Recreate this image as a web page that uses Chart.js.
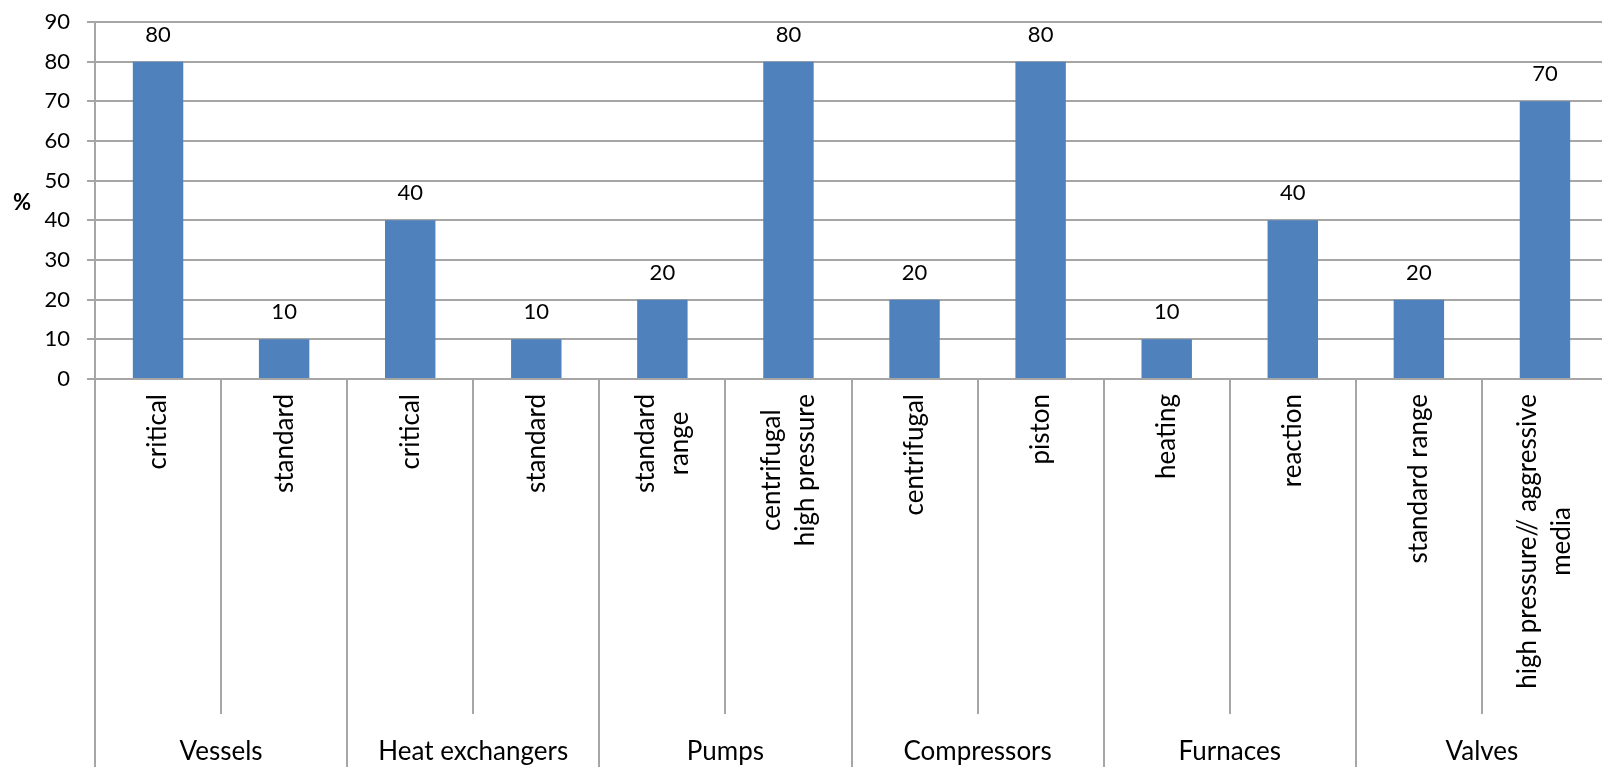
<html>
  <head>
    <meta charset="UTF-8">
    <title>Equipment share</title>
    <script src="https://cdn.jsdelivr.net/npm/chart.js"></script>
    <style>
      html, body { margin: 0; padding: 0; background: #fff; overflow: hidden; }
      #wrap { position: absolute; left: 0; top: 0; width: 1608px; height: 767px; }
    </style>
  </head>
  <body>
    <div id="wrap"><canvas id="equipChart"></canvas></div>
    <script>
    // equipment groups, each with two sub-categories
    const groups = ['Vessels', 'Heat exchangers', 'Pumps', 'Compressors', 'Furnaces', 'Valves'];
    const subLabels = [
      ['critical'], ['standard'],
      ['critical'], ['standard'],
      ['standard', 'range'], ['centrifugal', 'high pressure'],
      ['centrifugal'], ['piston'],
      ['heating'], ['reaction'],
      ['standard range'], ['high pressure// aggressive', 'media']
    ];
    const shares = [80, 10, 40, 10, 20, 80, 20, 80, 10, 40, 20, 70];
    const yTicks = [0, 10, 20, 30, 40, 50, 60, 70, 80, 90];

    const FONT = 'Lato, "DejaVu Sans", sans-serif';
    const GRID = '#a6a6a6';

    // value labels above each bar
    const barValues = {
      id: 'barValues',
      afterDatasetsDraw(chart) {
        const ctx = chart.ctx;
        const meta = chart.getDatasetMeta(0);
        ctx.save();
        ctx.font = '22px ' + FONT;
        ctx.fillStyle = '#000';
        ctx.textAlign = 'center';
        ctx.textBaseline = 'middle';
        meta.data.forEach((bar, i) => {
          ctx.fillText(String(shares[i]), bar.x, bar.y - 27);
        });
        ctx.restore();
      }
    };

    // two-level category axis: rotated sub labels, group names, divider lines
    const groupAxis = {
      id: 'groupAxis',
      afterDraw(chart) {
        const ctx = chart.ctx;
        const x = chart.scales.x;
        const area = chart.chartArea;
        const step = x.getPixelForValue(1) - x.getPixelForValue(0);
        const bottom = chart.height;
        ctx.save();
        ctx.strokeStyle = GRID;
        ctx.lineWidth = 2;
        for (let i = 0; i <= subLabels.length; i++) {
          const bx = Math.round(x.getPixelForValue(i) - step / 2);
          const yEnd = i % 2 === 0 ? bottom : 714;
          ctx.beginPath();
          ctx.moveTo(bx, area.bottom);
          ctx.lineTo(bx, yEnd);
          ctx.stroke();
        }

        ctx.fillStyle = '#000';
        ctx.font = '26px ' + FONT;
        ctx.textAlign = 'center';
        ctx.textBaseline = 'middle';
        const lineH = 34;
        subLabels.forEach((lines, i) => {
          const cx = x.getPixelForValue(i);
          const longest = Math.max(...lines.map(l => ctx.measureText(l).width));
          ctx.save();
          ctx.translate(cx, area.bottom + 15);
          ctx.rotate(-Math.PI / 2);
          lines.forEach((line, k) => {
            ctx.fillText(line, -longest / 2, (k - (lines.length - 1) / 2) * lineH);
          });
          ctx.restore();
        });

        groups.forEach((g, j) => {
          const cx = (x.getPixelForValue(2 * j) + x.getPixelForValue(2 * j + 1)) / 2;
          ctx.fillText(g, cx, 752);
        });

        // unit label
        ctx.font = 'bold 22px ' + FONT;
        ctx.fillText('%', 22, 203);
        ctx.restore();
      }
    };

    new Chart(document.getElementById('equipChart'), {
      type: 'bar',
      data: {
        labels: subLabels,
        datasets: [{
          data: shares,
          backgroundColor: '#4f81bd',
          borderWidth: 0,
          barPercentage: 0.4,
          categoryPercentage: 1
        }]
      },
      options: {
        responsive: true,
        maintainAspectRatio: false,
        animation: false,
        layout: { padding: { top: 22, left: 0, right: 0, bottom: 0 } },
        plugins: { legend: { display: false }, tooltip: { enabled: false } },
        scales: {
          x: {
            grid: { display: false },
            border: { display: false },
            ticks: { display: false },
            afterFit(scale) { scale.height = 388; }
          },
          y: {
            min: 0,
            max: 90,
            afterBuildTicks(scale) { scale.ticks = yTicks.map(v => ({ value: v })); },
            afterFit(scale) {
              scale.width = 95;
              // keep the plot top pinned to the layout padding
              scale.paddingTop = 0;
              scale.paddingBottom = 0;
            },
            grid: { color: GRID, lineWidth: 2, tickLength: 8 },
            border: { display: true, color: GRID, width: 2 },
            ticks: {
              color: '#000',
              padding: 17,
              font: { family: FONT, size: 22 }
            }
          }
        }
      },
      plugins: [barValues, groupAxis]
    });
  </script>
  </body>
</html>
